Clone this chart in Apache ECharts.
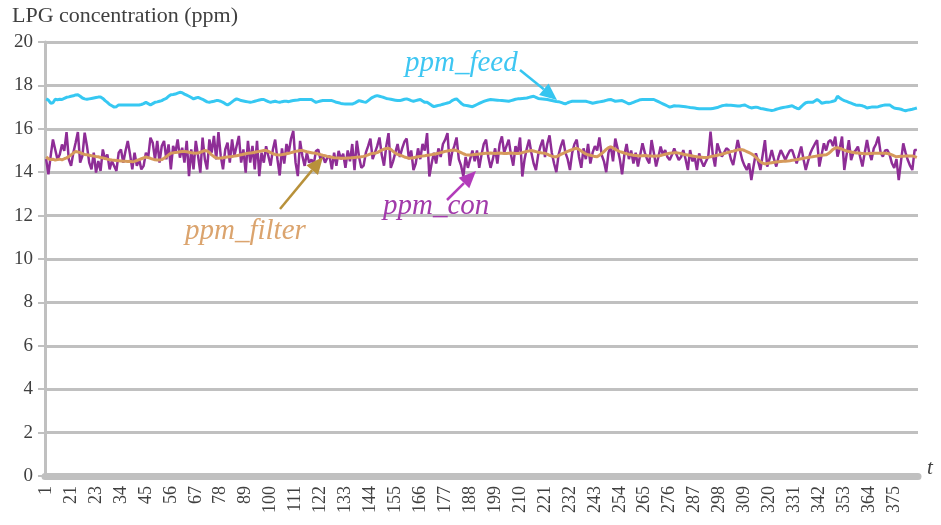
<!DOCTYPE html>
<html>
<head>
<meta charset="utf-8">
<script src="https://cdn.jsdelivr.net/npm/echarts@6/dist/echarts.min.js"></script>
<style>
html,body{margin:0;padding:0;background:#fff;}
#chart{width:941px;height:525px;}
</style>
</head>
<body>
<div id="chart"></div>
<script>
// x tick labels shown every 11 samples (as printed on the original chart)
const tickLabels = ["1","21","23","34","45","56","67","78","89","100","111","122","133","144","155","166","177","188","199","210","221","232","243","254","265","276","287","298","309","320","331","342","353","364","375"];

const ppmFeed = [
17.38,17.32,17.18,17.2,17.36,17.34,17.36,17.35,17.4,17.45,
17.47,17.5,17.52,17.56,17.57,17.5,17.42,17.38,17.36,17.38,
17.4,17.42,17.44,17.46,17.47,17.4,17.3,17.22,17.12,17.06,
17.0,17.02,17.1,17.1,17.1,17.1,17.1,17.1,17.1,17.1,
17.1,17.1,17.12,17.16,17.22,17.16,17.1,17.16,17.22,17.24,
17.27,17.3,17.36,17.4,17.5,17.57,17.58,17.6,17.64,17.68,
17.66,17.6,17.55,17.5,17.44,17.38,17.42,17.45,17.4,17.36,
17.3,17.24,17.22,17.25,17.27,17.3,17.3,17.27,17.22,17.15,
17.1,17.16,17.24,17.32,17.38,17.34,17.3,17.28,17.26,17.24,
17.22,17.24,17.27,17.3,17.33,17.35,17.35,17.3,17.25,17.22,
17.25,17.27,17.24,17.22,17.25,17.27,17.27,17.25,17.28,17.3,
17.32,17.33,17.35,17.35,17.35,17.35,17.35,17.35,17.28,17.22,
17.25,17.28,17.3,17.3,17.3,17.3,17.3,17.26,17.22,17.2,
17.17,17.15,17.14,17.14,17.14,17.14,17.18,17.24,17.3,17.27,
17.24,17.22,17.3,17.38,17.45,17.5,17.53,17.5,17.47,17.44,
17.4,17.38,17.36,17.34,17.32,17.3,17.3,17.33,17.36,17.38,
17.34,17.3,17.27,17.3,17.33,17.35,17.28,17.22,17.22,17.15,
17.08,17.02,17.05,17.08,17.1,17.13,17.16,17.19,17.22,17.3,
17.35,17.38,17.28,17.18,17.1,17.08,17.06,17.04,17.02,17.07,
17.12,17.17,17.22,17.26,17.3,17.33,17.35,17.34,17.33,17.32,
17.31,17.3,17.29,17.28,17.27,17.3,17.33,17.36,17.38,17.39,
17.4,17.41,17.42,17.45,17.48,17.5,17.45,17.4,17.38,17.37,
17.36,17.35,17.33,17.3,17.28,17.26,17.25,17.22,17.18,17.15,
17.2,17.24,17.27,17.27,17.27,17.27,17.27,17.27,17.27,17.24,
17.21,17.18,17.2,17.22,17.24,17.26,17.28,17.31,17.34,17.35,
17.31,17.27,17.28,17.29,17.3,17.25,17.2,17.15,17.18,17.22,
17.26,17.3,17.34,17.35,17.35,17.35,17.35,17.35,17.35,17.3,
17.25,17.2,17.15,17.1,17.05,17.0,17.03,17.06,17.05,17.05,
17.04,17.03,17.02,17.0,16.98,16.97,16.96,16.94,16.92,16.92,
16.92,16.92,16.92,16.92,16.94,16.96,16.98,17.02,17.06,17.08,
17.1,17.09,17.08,17.07,17.06,17.05,17.05,17.08,17.1,17.05,
17.0,16.96,16.98,17.0,16.98,16.94,16.92,16.9,16.88,16.86,
16.84,16.86,16.9,16.93,16.96,16.98,17.0,17.02,17.04,17.06,
17.0,16.95,16.92,17.02,17.12,17.2,17.22,17.22,17.22,17.28,
17.35,17.28,17.18,17.2,17.22,17.22,17.24,17.27,17.3,17.5,
17.42,17.35,17.3,17.26,17.22,17.18,17.14,17.1,17.09,17.08,
17.06,17.02,16.96,16.98,17.0,17.0,17.0,17.02,17.05,17.08,
17.1,17.1,17.1,17.02,16.96,16.94,16.92,16.9,16.86,16.83,
16.86,16.88,16.9,16.93,16.96];

const ppmCon = [
14.6,13.9,14.75,15.51,15.05,14.59,14.82,15.28,14.98,15.85,
14.59,14.29,14.9,15.36,15.85,14.44,14.75,15.82,15.21,14.44,
14.13,14.9,13.98,14.52,14.06,15.05,14.59,14.82,14.13,14.52,
14.29,14.06,14.9,15.05,14.44,14.98,15.44,14.82,14.13,14.9,
14.29,14.59,14.13,14.29,14.9,14.67,15.59,15.36,14.59,15.44,
14.44,15.21,15.44,14.59,15.28,14.13,15.21,14.9,15.51,14.67,
15.13,14.44,15.44,13.82,15.05,14.13,15.44,14.75,13.98,15.59,
14.59,14.13,15.51,14.9,15.67,14.59,15.85,14.75,14.13,15.05,
15.36,14.44,15.51,14.75,15.21,15.67,14.44,15.05,13.98,15.44,
14.44,15.21,14.13,15.44,13.82,14.9,14.44,15.2,14.75,14.3,
15.05,15.5,14.6,13.85,15.1,14.4,15.3,14.9,15.55,15.9,
14.44,13.82,15.44,14.75,14.29,14.9,14.44,14.59,14.36,14.98,
15.05,14.59,14.75,14.44,14.67,14.75,14.13,14.9,14.29,14.98,
14.6,14.85,14.2,15.0,14.5,15.3,14.1,15.45,14.7,14.2,
14.3,14.9,15.2,15.55,14.6,14.9,15.2,15.6,14.8,14.3,
15.2,15.8,14.2,14.5,14.9,15.3,14.7,15.1,15.4,15.55,
14.6,15.0,14.1,14.4,15.1,14.6,15.3,15.0,15.8,13.8,
14.4,14.9,14.4,15.1,14.7,15.3,15.5,15.8,14.3,14.9,
15.2,15.6,14.6,14.3,13.8,14.7,14.2,14.6,15.0,14.5,
15.0,14.2,14.8,15.3,15.5,14.7,14.2,14.6,15.1,14.4,
15.3,15.65,14.9,15.2,15.5,14.8,14.3,15.2,14.9,15.6,
13.8,14.6,15.1,15.5,14.9,14.4,14.1,14.8,15.2,15.5,
14.7,15.3,15.7,14.9,14.4,14.0,14.8,15.2,15.5,14.9,
14.6,14.1,14.9,15.3,15.5,14.7,14.2,15.1,14.6,15.3,
14.4,14.9,15.2,15.0,15.6,14.8,14.5,14.0,14.9,15.2,
14.5,15.55,15.1,14.6,13.9,14.8,15.3,14.6,15.0,14.4,
14.9,14.26,14.8,15.33,14.9,14.6,14.41,15.48,14.9,14.26,
14.7,15.18,14.8,15.02,14.7,14.56,14.8,15.1,14.8,14.56,
14.7,15.02,14.6,14.1,15.02,14.5,14.7,14.1,14.87,14.5,
14.26,14.5,14.72,15.87,14.8,14.26,15.33,15.0,14.72,14.9,
15.1,15.02,14.6,14.33,14.9,15.48,15.0,14.56,14.3,14.1,
14.4,13.64,14.3,14.87,14.5,14.1,14.8,15.48,14.26,14.6,
15.02,14.6,14.26,14.7,15.02,14.8,14.56,14.8,15.0,15.02,
14.7,14.41,14.8,15.18,14.6,14.1,14.5,14.87,15.1,15.3,
15.48,14.26,14.8,15.33,15.0,15.4,15.48,15.2,15.64,14.72,
15.1,15.64,14.1,14.8,15.48,14.56,14.9,15.0,15.18,14.7,
14.26,14.9,15.48,14.9,14.56,15.1,15.3,15.64,14.9,14.72,
15.0,15.02,14.8,14.41,14.2,14.6,13.64,14.5,15.33,14.9,
14.56,14.3,14.1,15.02,15.02];

const ppmFilter = [
14.71,14.62,14.58,14.6,14.56,14.58,14.6,14.57,14.62,14.66,
14.72,14.8,14.88,14.95,14.93,14.9,14.86,14.82,14.8,14.78,
14.76,14.74,14.72,14.71,14.68,14.66,14.63,14.6,14.58,14.56,
14.55,14.54,14.53,14.52,14.51,14.5,14.49,14.5,14.48,14.5,
14.54,14.58,14.62,14.66,14.7,14.67,14.64,14.6,14.57,14.56,
14.56,14.58,14.64,14.72,14.8,14.87,14.89,14.91,14.92,14.94,
14.95,14.95,14.94,14.92,14.9,14.88,14.87,14.88,14.92,14.96,
15.0,14.98,14.9,14.8,14.72,14.66,14.64,14.65,14.67,14.69,
14.7,14.71,14.72,14.74,14.76,14.78,14.8,14.83,14.85,14.87,
14.88,14.9,14.92,14.94,14.96,14.98,15.0,15.0,14.96,14.9,
14.85,14.82,14.8,14.79,14.81,14.83,14.85,14.87,14.9,14.93,
14.96,14.98,15.0,15.0,14.97,14.94,14.92,14.9,14.88,14.87,
14.84,14.81,14.78,14.76,14.73,14.71,14.69,14.67,14.66,14.65,
14.64,14.64,14.64,14.65,14.66,14.67,14.68,14.69,14.7,14.71,
14.73,14.76,14.8,14.84,14.87,14.87,14.9,14.96,15.02,15.06,
15.09,15.1,15.05,14.96,14.88,14.82,14.79,14.75,14.7,14.67,
14.64,14.65,14.67,14.69,14.71,14.73,14.75,14.76,14.78,14.79,
14.81,14.83,14.85,14.87,14.9,14.93,14.96,14.98,15.0,15.01,
15.02,15.0,14.95,14.9,14.85,14.81,14.79,14.79,14.8,14.82,
14.83,14.84,14.85,14.86,14.87,14.87,14.88,14.87,14.86,14.87,
14.88,14.87,14.86,14.86,14.87,14.88,14.87,14.86,14.86,14.87,
14.9,14.93,14.96,14.98,15.0,14.98,14.95,14.92,14.9,14.88,
14.87,14.83,14.78,14.74,14.71,14.71,14.76,14.82,14.87,14.92,
14.96,15.0,15.04,15.08,15.1,15.05,14.98,14.9,14.84,14.8,
14.78,14.75,14.72,14.71,14.78,14.86,14.95,15.05,15.13,15.17,
15.12,15.05,15.0,14.95,14.92,14.88,14.85,14.82,14.8,14.78,
14.77,14.76,14.75,14.76,14.77,14.76,14.75,14.75,14.74,14.75,
14.75,14.77,14.8,14.83,14.85,14.87,14.88,14.9,14.9,14.88,
14.86,14.83,14.8,14.79,14.77,14.75,14.73,14.71,14.7,14.69,
14.68,14.68,14.69,14.71,14.74,14.76,14.78,14.8,14.83,14.86,
14.89,14.92,14.95,14.97,15.0,15.03,15.05,15.04,15.0,14.95,
14.9,14.85,14.78,14.68,14.58,14.48,14.42,14.38,14.4,14.42,
14.44,14.46,14.47,14.48,14.49,14.5,14.51,14.52,14.53,14.55,
14.56,14.58,14.6,14.62,14.64,14.66,14.68,14.7,14.71,14.73,
14.75,14.77,14.78,14.79,14.8,14.86,14.95,15.05,15.12,15.13,
15.1,15.06,15.02,14.98,14.95,14.93,14.91,14.89,14.88,14.87,
14.86,14.85,14.85,14.86,14.86,14.87,14.87,14.87,14.87,14.87,
14.87,14.86,14.84,14.8,14.75,14.71,14.72,14.73,14.74,14.75,
14.75,14.75,14.75,14.72,14.68];

const categories = ppmFeed.map((_, i) => String(i + 1));
const labelAt = {};
tickLabels.forEach((t, k) => { labelAt[k * 11] = t; });

const SERIF = '"Liberation Serif","DejaVu Serif",serif';
const GRID_COL = '#c0c0c0';

const chart = echarts.init(document.getElementById('chart'), null, {renderer: 'canvas'});

function arrow(x1, y1, x2, y2, color, head) {
  const ang = Math.atan2(y2 - y1, x2 - x1);
  const hl = head || 15, hw = 7.5;
  const bx = x2 - hl * Math.cos(ang), by = y2 - hl * Math.sin(ang);
  const px = -Math.sin(ang) * hw, py = Math.cos(ang) * hw;
  return [
    {type: 'line', z: 100, shape: {x1: x1, y1: y1, x2: bx, y2: by}, style: {stroke: color, lineWidth: 2.5}},
    {type: 'polygon', z: 100, shape: {points: [[x2, y2], [bx + px, by + py], [bx - px, by - py]]}, style: {fill: color}}
  ];
}

const option = {
  animation: false,
  backgroundColor: '#ffffff',
  grid: {left: 45, right: 23, top: 42, bottom: 49, containLabel: false},
  xAxis: {
    type: 'category',
    data: categories,
    boundaryGap: true,
    axisLine: {show: true, lineStyle: {color: GRID_COL, width: 7}},
    axisTick: {show: false},
    splitLine: {show: false},
    axisLabel: {
      rotate: 90,
      margin: 10,
      interval: function (index) { return index % 11 === 0; },
      formatter: function (value, index) { return labelAt[Number(value) - 1] || ''; },
      fontFamily: SERIF,
      fontSize: 18,
      color: '#404040'
    }
  },
  yAxis: {
    type: 'value',
    min: 0, max: 20, interval: 2,
    axisLine: {show: true, lineStyle: {color: GRID_COL, width: 3}},
    axisTick: {show: true, length: 7, lineStyle: {color: GRID_COL, width: 2}},
    splitLine: {show: true, lineStyle: {color: GRID_COL, width: 3}},
    axisLabel: {margin: 12, fontFamily: SERIF, fontSize: 19, color: '#404040'}
  },
  series: [
    {name: 'ppm_con', type: 'line', data: ppmCon, showSymbol: false, symbol: 'none',
     lineStyle: {color: '#8e2d96', width: 2.5}, z: 2},
    {name: 'ppm_filter', type: 'line', data: ppmFilter, showSymbol: false, symbol: 'none',
     lineStyle: {color: '#d69a5c', width: 3}, z: 3},
    {name: 'ppm_feed', type: 'line', data: ppmFeed, showSymbol: false, symbol: 'none',
     lineStyle: {color: '#36c8f2', width: 3}, z: 4}
  ],
  graphic: [
    {type: 'text', left: 12, top: 5, style: {text: 'LPG concentration (ppm)', font: '22px ' + SERIF, fill: '#404040'}},
    {type: 'text', left: 927, top: 458, style: {text: 't', font: 'italic 21px ' + SERIF, fill: '#404040'}},
    {type: 'text', left: 405, top: 49, z: 100, style: {text: 'ppm_feed', font: 'italic 29px ' + SERIF, fill: '#3ec6f2'}},
    {type: 'text', left: 383, top: 192, z: 100, style: {text: 'ppm_con', font: 'italic 29px ' + SERIF, fill: '#a23aaa'}},
    {type: 'text', left: 185, top: 217, z: 100, style: {text: 'ppm_filter', font: 'italic 29px ' + SERIF, fill: '#dba46e'}}
  ].concat(
    arrow(520, 70, 557, 100, '#35c5f0', 17),
    arrow(447, 200, 476, 171, '#b23bba', 17),
    arrow(280, 209, 323, 157, '#b8913a', 17)
  )
};

chart.setOption(option);
</script>
</body>
</html>
